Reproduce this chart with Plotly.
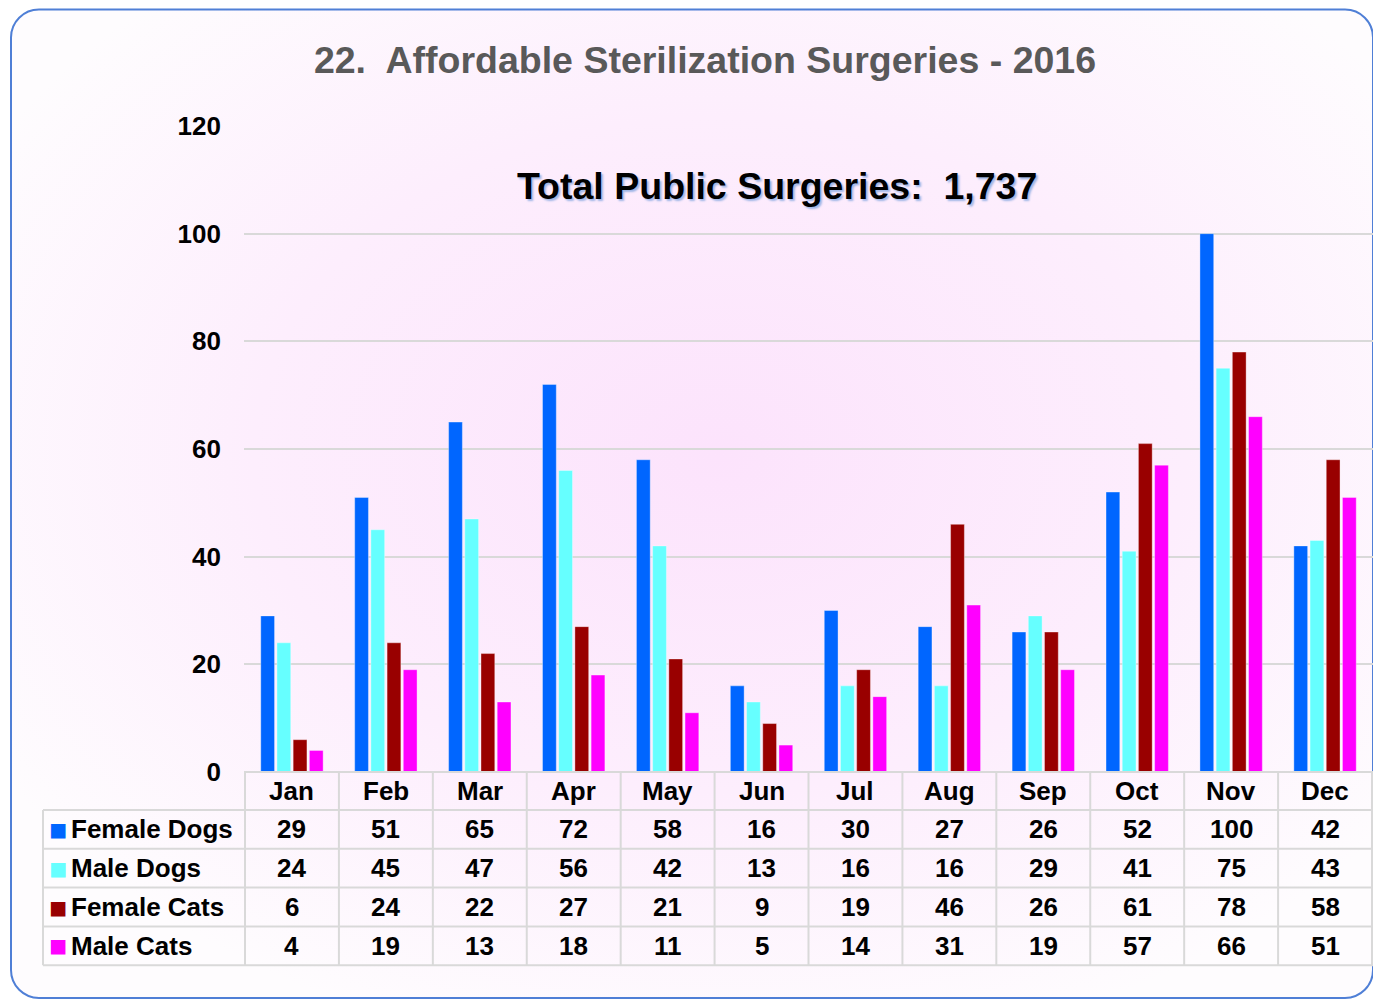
import base64
import plotly.graph_objects as go

# ---------------- data ----------------
months = ["Jan", "Feb", "Mar", "Apr", "May", "Jun", "Jul", "Aug", "Sep", "Oct", "Nov", "Dec"]
series_names = ["Female Dogs", "Male Dogs", "Female Cats", "Male Cats"]
female_dogs = [29, 51, 65, 72, 58, 16, 30, 27, 26, 52, 100, 42]
male_dogs = [24, 45, 47, 56, 42, 13, 16, 16, 29, 41, 75, 43]
female_cats = [6, 24, 22, 27, 21, 9, 19, 46, 26, 61, 78, 58]
male_cats = [4, 19, 13, 18, 11, 5, 14, 31, 19, 57, 66, 51]
y_ticks = [0, 20, 40, 60, 80, 100, 120]
title_text = "22.  Affordable Sterilization Surgeries - 2016"
total_label = "Total Public Surgeries:\u00a0 1,737"

series_values = [female_dogs, male_dogs, female_cats, male_cats]
colors = ["#0066FF", "#66FFFF", "#990000", "#FF00FF"]

# page has an 8px body margin; let the figure reach the window's right/bottom edges
OFF = 8
W, H = 1381 - OFF, 1000 - OFF
FONT = "Liberation Sans, Arial, sans-serif"


def fx(px):
    return min(1.0, max(0.0, (px - OFF) / W))


def fy(py):
    return min(1.0, max(0.0, 1 - (py - OFF) / H))


# ---------------- background (rounded panel with radial gradient) ----------------
svg = f"""<svg xmlns='http://www.w3.org/2000/svg' width='{W}' height='{H}' viewBox='0 0 {W} {H}' preserveAspectRatio='none'>
<defs>
<radialGradient id='g' cx='0.52' cy='0.45' r='0.62'>
<stop offset='0' stop-color='#fce3fc'/>
<stop offset='0.55' stop-color='#fdeefd'/>
<stop offset='1' stop-color='#fefcfe'/>
</radialGradient>
</defs>
<rect x='{11 - OFF}' y='1.5' width='1362' height='988.5' rx='28' ry='28' fill='url(#g)' stroke='#4f7fd6' stroke-width='2'/>
</svg>"""
bg_src = "data:image/svg+xml;base64," + base64.b64encode(svg.encode()).decode()

fig = go.Figure()

for name, vals, col in zip(series_names, series_values, colors):
    fig.add_trace(go.Bar(
        x=months, y=vals, name=name,
        marker=dict(color=col, line=dict(color="rgba(255,255,255,0.35)", width=1)),
        showlegend=False, xaxis="x", yaxis="y",
    ))

# ---------------- data table (drawn on the x axis' category scale) ----------------
px_left, px_axis, px_right = 43, 244, 1373
tbl_top, header_h, row_h = 772, 38, 38.8
grid_c = "#d9d9d9"
TS = 26

row_edges = [tbl_top + header_h + k * row_h for k in range(len(series_names) + 1)]
tbl_bottom = row_edges[-1]

shapes = []
# horizontal rules
shapes.append(dict(type="line", xref="paper", yref="paper", x0=fx(px_axis), x1=fx(px_right),
                   y0=fy(tbl_top), y1=fy(tbl_top), line=dict(color=grid_c, width=2)))
for ye in row_edges:
    shapes.append(dict(type="line", xref="paper", yref="paper", x0=fx(px_left), x1=fx(px_right),
                       y0=fy(ye), y1=fy(ye), line=dict(color=grid_c, width=2)))
# vertical rules: left edge of legend column, then category boundaries
shapes.append(dict(type="line", xref="paper", yref="paper", x0=fx(px_left), x1=fx(px_left),
                   y0=fy(row_edges[0]), y1=fy(tbl_bottom), line=dict(color=grid_c, width=2)))
for k in range(len(months) + 1):
    shapes.append(dict(type="line", xref="x", yref="paper", x0=k - 0.5, x1=k - 0.5,
                       y0=fy(tbl_top), y1=fy(tbl_bottom), line=dict(color=grid_c, width=2)))

annotations = []
# month header
for m in months:
    annotations.append(dict(text=f"<b>{m}</b>", xref="x", yref="paper", x=m,
                            y=fy(tbl_top + header_h / 2), xanchor="center", yanchor="middle",
                            showarrow=False, font=dict(family=FONT, size=TS, color="black")))
# rows
for i, (name, vals, col) in enumerate(zip(series_names, series_values, colors)):
    yc = fy(row_edges[i] + row_h / 2)
    annotations.append(dict(text="■", xref="paper", yref="paper", x=fx(px_left + 15), y=yc,
                            xanchor="center", yanchor="middle", showarrow=False,
                            font=dict(family=FONT, size=30, color=col)))
    annotations.append(dict(text=f"<b>{name}</b>", xref="paper", yref="paper", x=fx(px_left + 26),
                            y=yc, xanchor="left", yanchor="middle", showarrow=False,
                            font=dict(family=FONT, size=TS, color="black")))
    for m, v in zip(months, vals):
        annotations.append(dict(text=f"<b>{v}</b>", xref="x", yref="paper", x=m, y=yc,
                                xanchor="center", yanchor="middle", showarrow=False,
                                font=dict(family=FONT, size=TS, color="black")))

annotations.append(dict(text=f"<b>{total_label}</b>", xref="paper", yref="paper",
                        x=fx(777.5), y=fy(186), xanchor="center", yanchor="middle",
                        showarrow=False,
                        font=dict(family=FONT, size=37.5, color="black",
                                  shadow="2px 2px 2px #9fb6e6")))

fig.update_layout(
    width=W, height=H,
    margin=dict(l=0, r=0, t=0, b=0, autoexpand=False),
    paper_bgcolor="white",
    plot_bgcolor="rgba(0,0,0,0)",
    barmode="group",
    bargap=0.31,
    bargroupgap=0.15,
    images=[dict(source=bg_src, xref="paper", yref="paper", x=0, y=1, sizex=1, sizey=1,
                 sizing="stretch", xanchor="left", yanchor="top", layer="below")],
    xaxis=dict(domain=[fx(px_axis), fx(px_right)], showticklabels=False, showgrid=False,
               zeroline=False, showline=False, ticks="", automargin=False),
    yaxis=dict(domain=[fy(772), fy(126)], range=[0, 120], tickvals=y_ticks,
               showgrid=True, gridcolor=grid_c, gridwidth=2, zeroline=False, showline=False,
               ticks="", ticklabelstandoff=22, automargin=False,
               tickfont=dict(family=FONT, size=26, color="black", weight="bold")),
    title=dict(text=f"<b>{title_text}</b>", x=fx(705), xanchor="center", y=fy(60),
               yanchor="middle", automargin=False,
               font=dict(family=FONT, size=37.5, color="#595959")),
    shapes=shapes,
    annotations=annotations,
)

fig.write_html("out.html")
